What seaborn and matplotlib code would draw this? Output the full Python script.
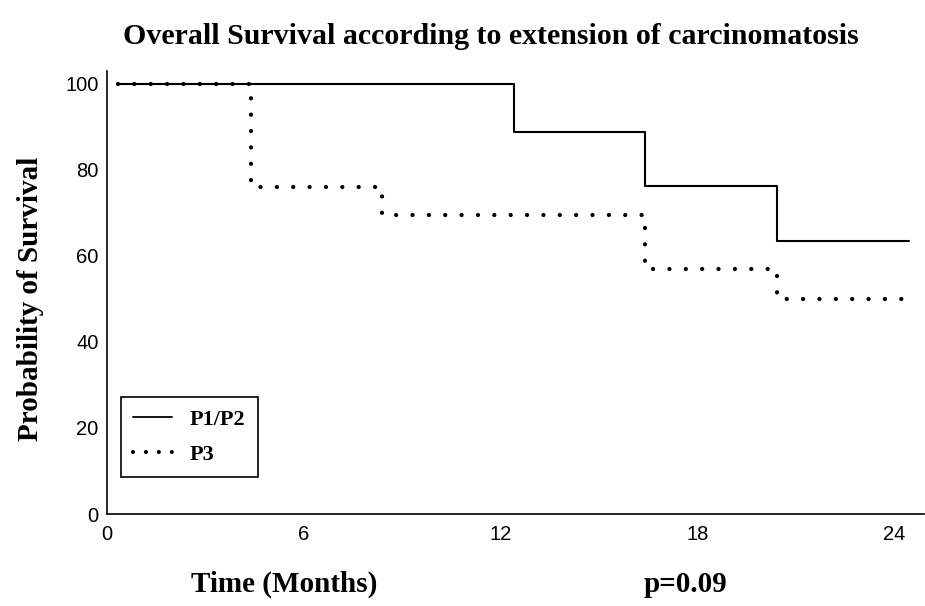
import matplotlib
matplotlib.use("Agg")
import matplotlib.pyplot as plt
from matplotlib.lines import Line2D
import pandas as pd
import seaborn as sns

# Kaplan-Meier estimates (percent surviving) at each event time, in months
months_p12 = [0.35, 12.39, 16.41, 20.42, 24.45]
surv_p12 = [100.0, 88.9, 76.2, 63.5, 63.5]

months_p3 = [0.35, 4.38, 8.37, 16.41, 20.42, 24.45]
surv_p3 = [100.0, 76.0, 69.5, 57.0, 50.0, 50.0]

group_labels = ["P1/P2", "P3"]
x_ticks = [0, 6, 12, 18, 24]
y_ticks = [0, 20, 40, 60, 80, 100]

sns.set_theme(style="white")
plt.rcParams["font.family"] = ["Liberation Sans", "DejaVu Sans"]
plt.rcParams["text.color"] = "black"
plt.rcParams["xtick.color"] = "black"
plt.rcParams["ytick.color"] = "black"

fig = plt.figure(figsize=(9.25, 6.06), dpi=100)
ax = fig.add_axes([107 / 925, 1 - 514 / 606, (924 - 107) / 925, (514 - 71) / 606])

df_p12 = pd.DataFrame({"month": months_p12, "survival": surv_p12})
df_p3 = pd.DataFrame({"month": months_p3, "survival": surv_p3})

sns.lineplot(data=df_p12, x="month", y="survival", ax=ax, color="black",
             drawstyle="steps-post", estimator=None, linewidth=1.5)
sns.lineplot(data=df_p3, x="month", y="survival", ax=ax, color="black",
             drawstyle="steps-post", estimator=None, linewidth=3.1)

solid, dotted = ax.get_lines()[:2]
dotted.set_linestyle((0, (0.001, 3.8)))
dotted.set_dash_capstyle("round")

ax.set_xlim(0, 24.9)
ax.set_ylim(0, 103)
ax.set_xticks(x_ticks)
ax.set_yticks(y_ticks)
ax.tick_params(axis="both", direction="in", length=3, width=1, colors="black",
               labelcolor="black", labelsize=14.5)
ax.tick_params(axis="x", pad=8)
ax.tick_params(axis="y", pad=6)
ax.set_xlabel("")
ax.set_ylabel("")

for side in ["top", "right"]:
    ax.spines[side].set_visible(False)
for side in ["left", "bottom"]:
    ax.spines[side].set_color("black")
    ax.spines[side].set_linewidth(1.2)

serif_bold = dict(family=["Liberation Serif", "DejaVu Serif"], weight="bold",
                  color="black")

handles = [
    Line2D([], [], color="black", linewidth=1.3),
    Line2D([], [], color="black", linewidth=3.0, linestyle=(0, (0.001, 3.1)),
           dash_capstyle="round"),
]
leg = ax.legend(handles, group_labels, loc="lower left",
                bbox_to_anchor=(14 / 817, 37 / 443), frameon=True,
                fancybox=False, edgecolor="black", framealpha=1,
                prop=dict(family=["Liberation Serif"], weight="bold", size=16),
                handlelength=1.75, handletextpad=0.8, borderpad=0.55,
                labelspacing=0.65, borderaxespad=0)
leg.get_frame().set_linewidth(1.2)
for t in leg.get_texts():
    t.set_color("black")

fig.text(491 / 925, 1 - 37 / 606,
         "Overall Survival according to extension of carcinomatosis",
         ha="center", va="center", fontsize=21.5, **serif_bold)
fig.text(31 / 925, 1 - 299 / 606, "Probability of Survival", rotation=90,
         ha="center", va="center", fontsize=21, **serif_bold)
fig.text(284 / 925, 1 - 584 / 606, "Time (Months)",
         ha="center", va="center", fontsize=21, **serif_bold)
fig.text(685 / 925, 1 - 584 / 606, "p=0.09",
         ha="center", va="center", fontsize=21, **serif_bold)

fig.savefig("out.png", dpi=100, facecolor="white")
